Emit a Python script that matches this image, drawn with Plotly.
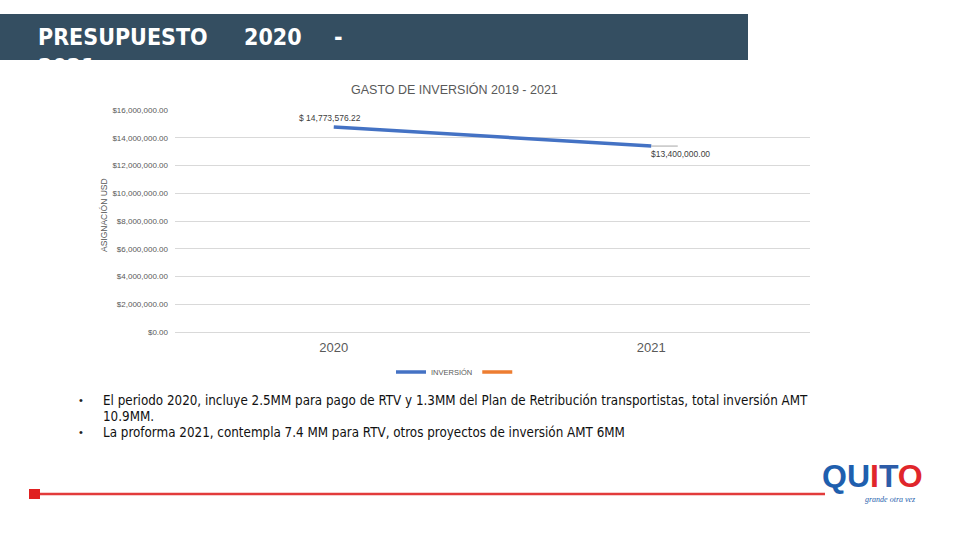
import plotly.graph_objects as go

# ---- data ----
years = [2020, 2021]
year_labels = ["2020", "2021"]
inversion = [14773576.22, 13400000.00]
series2 = [None, None]
y_ticks = [0, 2e6, 4e6, 6e6, 8e6, 10e6, 12e6, 14e6, 16e6]

title_words = ["PRESUPUESTO", "2020", "-"]
subtitle_cut = "2021"
chart_title = "GASTO DE INVERSIÓN 2019 - 2021"
y_title = "ASIGNACIÓN USD"
bullet_lines = [
    ("•", "El periodo 2020, incluye 2.5MM para pago de RTV y 1.3MM del Plan de Retribución transportistas, total inversión AMT"),
    ("", "10.9MM."),
    ("•", "La proforma 2021, contempla 7.4 MM para RTV, otros proyectos de inversión AMT 6MM"),
]

W, H = 960, 540
L, R, T, B = 175, 150, 110, 208
PW, PH = W - L - R, H - T - B


def px(x):
    return (x - L) / PW


def py(y):
    return (H - B - y) / PH


GRAY = "#595959"
NARROW = "DejaVu Sans Condensed, Liberation Sans, sans-serif"

fig = go.Figure()
fig.add_trace(go.Scatter(x=years, y=inversion, mode="lines", name="INVERSIÓN",
                         line=dict(color="#4472C4", width=3.5)))
fig.add_trace(go.Scatter(x=years, y=series2, mode="lines", name=" ",
                         line=dict(color="#ED7D31", width=3.5)))

ann = []
# data labels
ann.append(dict(x=years[0], y=inversion[0], xref="x", yref="y",
                text="$ {:,.2f}".format(inversion[0]), showarrow=False,
                xanchor="center", yanchor="middle",
                xshift=-4, yshift=9, font=dict(size=8.5, color="#404040", family="Liberation Sans")))
ann.append(dict(x=years[1], y=inversion[1], xref="x", yref="y",
                text="${:,.2f}".format(inversion[1]), showarrow=False,
                xanchor="left", yanchor="middle", xshift=-2, yshift=-8,
                font=dict(size=8.5, color="#404040", family="Liberation Sans")))
ann.append(dict(x=years[1], y=inversion[1], xref="x", yref="y", text="",
                showarrow=True, ax=28, ay=0, arrowhead=0, arrowwidth=1, arrowcolor="#A6A6A6"))

# chart title
ann.append(dict(x=px(454), y=py(89), xref="paper", yref="paper", text=chart_title,
                showarrow=False, xanchor="center", yanchor="middle",
                font=dict(size=12.5, color=GRAY, family="Liberation Sans")))
# y axis title
ann.append(dict(x=px(104), y=py(215), xref="paper", yref="paper", text=y_title,
                showarrow=False, textangle=-90, xanchor="center", yanchor="middle",
                font=dict(size=8.5, color=GRAY, family="Liberation Sans")))

# header
for word, x0 in zip(title_words, [36, 242, 332]):
    ann.append(dict(x=px(x0), y=py(37), xref="paper", yref="paper", text="<b>%s</b>" % word,
                    showarrow=False, xanchor="left", yanchor="middle",
                    font=dict(size=23, color="white", family=NARROW)))
ann.append(dict(x=px(36), y=py(67), xref="paper", yref="paper", text="<b>%s</b>" % subtitle_cut,
                showarrow=False, xanchor="left", yanchor="middle",
                font=dict(size=23, color="white", family=NARROW)))

# bullets
for (bul, txt), yc in zip(bullet_lines, [400, 416, 432]):
    if bul:
        ann.append(dict(x=px(77), y=py(yc), xref="paper", yref="paper", text=bul,
                        showarrow=False, xanchor="left", yanchor="middle",
                        font=dict(size=11, color="#222222", family="Liberation Sans")))
    ann.append(dict(x=px(101), y=py(yc), xref="paper", yref="paper", text=txt,
                    showarrow=False, xanchor="left", yanchor="middle", align="left",
                    font=dict(size=13.3, color="#111111", family=NARROW)))

# logo
ann.append(dict(x=px(872), y=py(476), xref="paper", yref="paper",
                text="<b><span style='color:#1F5FAE'>QU</span><span style='color:#E0262B'>I</span>"
                     "<span style='color:#2D5CA8'>T</span><span style='color:#E0262B'>O</span></b>",
                showarrow=False, xanchor="center", yanchor="middle",
                font=dict(size=32, family="Liberation Sans")))
ann.append(dict(x=px(890), y=py(499), xref="paper", yref="paper",
                text="<i>grande otra vez</i>", showarrow=False, xanchor="center", yanchor="middle",
                font=dict(size=8, color="#1F5FAE", family="Liberation Serif")))

shapes = [
    dict(type="rect", xref="paper", yref="paper", x0=px(0), x1=px(748), y0=py(14), y1=py(60),
         fillcolor="#344E61", line=dict(width=0), layer="below"),
    dict(type="line", xref="paper", yref="paper", x0=px(35), x1=px(825), y0=py(494), y1=py(494),
         line=dict(color="#E23B3B", width=2.5)),
    dict(type="rect", xref="paper", yref="paper", x0=px(29), x1=px(40), y0=py(489), y1=py(499),
         fillcolor="#E02020", line=dict(width=0)),
]

fig.update_layout(
    width=W, height=H,
    margin=dict(l=L, r=R, t=T, b=B, autoexpand=False),
    paper_bgcolor="white", plot_bgcolor="white",
    showlegend=True,
    legend=dict(orientation="h", x=px(458), y=py(372), xanchor="center", yanchor="middle",
                font=dict(size=7.5, color=GRAY, family="Liberation Sans"), itemwidth=30),
    annotations=ann,
    shapes=shapes,
    xaxis=dict(range=[years[0] - 0.5, years[-1] + 0.5], tickvals=years, ticktext=year_labels,
               showgrid=False, showline=False, zeroline=False, ticks="",
               tickfont=dict(size=13, color=GRAY, family="Liberation Sans"), ticklabelstandoff=6),
    yaxis=dict(range=[0, 16e6], tickvals=y_ticks, tickformat="$,.2f", showgrid=True,
               gridcolor="#D9D9D9", gridwidth=1, zeroline=True, zerolinecolor="#D9D9D9",
               zerolinewidth=1, showline=False, ticks="",
               tickfont=dict(size=8, color=GRAY, family="Liberation Sans"), ticklabelstandoff=6),
)

fig.write_html("out.html", config={"displayModeBar": False},
               post_script="document.body.style.margin='0';document.body.style.overflow='hidden';")
